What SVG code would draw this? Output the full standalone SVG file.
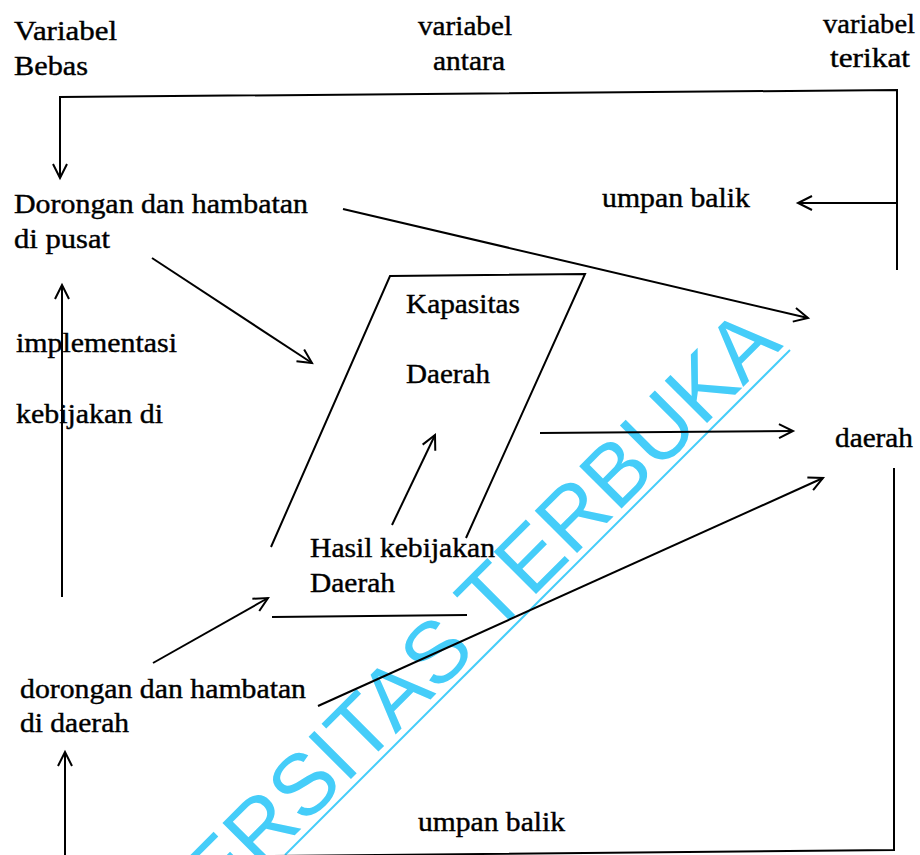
<svg xmlns="http://www.w3.org/2000/svg" width="920" height="855" viewBox="0 0 920 855">
<style>
text{font-family:"Liberation Serif","Times New Roman",serif;font-size:27px;fill:#000;stroke:#000;stroke-width:0.4;}
.ln{stroke:#000;stroke-width:2;fill:none;}
.arr{marker-end:url(#ah);}
.wm{font-family:"Liberation Sans",Arial,sans-serif;font-size:87px;fill:#45cdf9;stroke:none;}
</style>
<defs>
<marker id="ah" markerUnits="userSpaceOnUse" markerWidth="20" markerHeight="20" viewBox="-16 -10 20 20" refX="0" refY="0" orient="auto">
<path d="M -14 -7 L 0 0 L -14 7" fill="none" stroke="#000" stroke-width="2"/>
</marker>
</defs>
<rect width="920" height="855" fill="#fff"/>
<g id="watermark">
<text class="wm" x="784" y="346" text-anchor="end" transform="rotate(-45 784 346)">UNIVERSITAS TERBUKA</text>
<line x1="285" y1="855" x2="790" y2="350" stroke="#45cdf9" stroke-width="2"/>
</g>
<g id="headers">
<text x="14" y="40" textLength="103" lengthAdjust="spacingAndGlyphs">Variabel</text>
<text x="14" y="75" textLength="74" lengthAdjust="spacingAndGlyphs">Bebas</text>
<text x="418" y="35" textLength="94" lengthAdjust="spacingAndGlyphs">variabel</text>
<text x="433" y="70" textLength="72" lengthAdjust="spacingAndGlyphs">antara</text>
<text x="823" y="33" textLength="92" lengthAdjust="spacingAndGlyphs">variabel</text>
<text x="830" y="67" textLength="80" lengthAdjust="spacingAndGlyphs">terikat</text>
</g>
<g id="node-pusat">
<text x="14" y="213" textLength="294" lengthAdjust="spacingAndGlyphs">Dorongan dan hambatan</text>
<text x="14" y="248" textLength="96" lengthAdjust="spacingAndGlyphs">di pusat</text>
</g>
<g id="node-kapasitas">
<path class="ln" d="M 271 547 L 390 276 L 585 274 L 466 538"/>
<line class="ln" x1="272" y1="617" x2="467" y2="615"/>
<text x="406" y="313" textLength="114" lengthAdjust="spacingAndGlyphs">Kapasitas</text>
<text x="406" y="383" textLength="84" lengthAdjust="spacingAndGlyphs">Daerah</text>
</g>
<g id="node-hasil">
<text x="310" y="557" textLength="185" lengthAdjust="spacingAndGlyphs">Hasil kebijakan</text>
<text x="310" y="592" textLength="85" lengthAdjust="spacingAndGlyphs">Daerah</text>
</g>
<g id="node-daerah-terikat">
<text x="835" y="447" textLength="78" lengthAdjust="spacingAndGlyphs">daerah</text>
</g>
<g id="node-didaerah">
<text x="20" y="698" textLength="286" lengthAdjust="spacingAndGlyphs">dorongan dan hambatan</text>
<text x="20" y="732" textLength="109" lengthAdjust="spacingAndGlyphs">di daerah</text>
</g>
<g id="labels">
<text x="602" y="207" textLength="148" lengthAdjust="spacingAndGlyphs">umpan balik</text>
<text x="16" y="352" textLength="161" lengthAdjust="spacingAndGlyphs">implementasi</text>
<text x="16" y="423" textLength="147" lengthAdjust="spacingAndGlyphs">kebijakan di</text>
<text x="418" y="831" textLength="147" lengthAdjust="spacingAndGlyphs">umpan balik</text>
</g>
<g id="connectors">
<polyline class="ln arr" points="897,270 897,90 60,97 60,178"/>
<line class="ln arr" x1="897" y1="203" x2="798" y2="203"/>
<line class="ln arr" x1="343" y1="209" x2="808" y2="318"/>
<line class="ln arr" x1="152" y1="258" x2="312" y2="363"/>
<line class="ln arr" x1="392" y1="525" x2="435" y2="435"/>
<line class="ln arr" x1="540" y1="433" x2="793" y2="431"/>
<line class="ln arr" x1="153" y1="663" x2="268" y2="598"/>
<line class="ln arr" x1="318" y1="706" x2="823" y2="478"/>
<line class="ln arr" x1="62" y1="597" x2="62" y2="285"/>
<polyline class="ln" points="894,468 894,850 65,858"/>
<line class="ln arr" x1="65" y1="855" x2="65" y2="752"/>
</g>
</svg>
